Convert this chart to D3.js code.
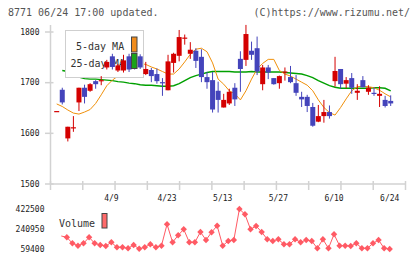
<!DOCTYPE html>
<html><head><meta charset="utf-8">
<script src="https://cdn.jsdelivr.net/npm/d3@7"></script>
<style>body{margin:0;background:#fff}svg{display:block}</style>
</head><body>
<script>
const dates = ["3/26","3/27","3/30","3/31","4/1","4/2","4/3","4/6","4/7","4/8","4/9","4/10","4/13","4/14","4/15","4/16","4/17","4/20","4/21","4/22","4/23","4/24","4/27","4/28","4/30","5/1","5/7","5/8","5/11","5/12","5/13","5/14","5/15","5/18","5/19","5/20","5/21","5/22","5/25","5/26","5/27","5/28","5/29","6/1","6/2","6/3","6/4","6/5","6/8","6/9","6/10","6/11","6/12","6/15","6/16","6/17","6/18","6/19","6/22","6/23","6/24"];
const openV  = [1644,1686,1590,1611,1661,1690,1684,1703,1704,1730,1752,1724,1724,1752,1752,1752,1717,1725,1717,1701,1685,1739,1753,1788,1757,1763,1751,1711,1705,1684,1651,1659,1690,1747,1745,1763,1768,1697,1730,1709,1699,1721,1711,1699,1672,1672,1652,1623,1634,1642,1703,1727,1698,1709,1680,1705,1682,1680,1674,1666,1664];
const highV  = [1644,1690,1613,1634,1690,1696,1699,1705,1713,1745,1757,1737,1755,1757,1757,1756,1741,1729,1728,1709,1755,1759,1804,1795,1780,1768,1766,1721,1721,1702,1678,1688,1699,1762,1814,1781,1791,1735,1735,1709,1714,1730,1733,1715,1682,1676,1660,1656,1666,1655,1751,1727,1711,1719,1697,1713,1695,1691,1693,1674,1675];
const lowV   = [1644,1657,1584,1603,1644,1659,1682,1688,1695,1726,1726,1721,1720,1721,1726,1727,1715,1701,1698,1674,1685,1720,1742,1775,1747,1729,1701,1688,1641,1641,1651,1656,1654,1682,1733,1745,1715,1685,1707,1696,1688,1704,1699,1674,1652,1642,1613,1622,1621,1629,1692,1688,1689,1678,1666,1691,1676,1674,1652,1651,1654];
const closeV = [1644,1661,1613,1612,1690,1672,1697,1697,1705,1741,1731,1734,1744,1726,1728,1730,1727,1713,1703,1700,1742,1757,1790,1789,1765,1743,1711,1701,1647,1666,1666,1682,1667,1727,1796,1755,1722,1730,1720,1697,1713,1722,1701,1680,1667,1654,1615,1634,1642,1634,1723,1697,1705,1690,1684,1691,1690,1678,1678,1654,1659];
const ma5  = [1658,1653,1646,1640,1638,1642,1647,1659,1676,1694,1705,1713,1725,1733,1737,1738,1736,1731,1727,1722,1717,1717,1727,1741,1756,1766,1768,1761,1739,1707,1697,1684,1678,1666,1684,1707,1727,1738,1746,1746,1724,1717,1713,1707,1701,1695,1684,1666,1651,1641,1636,1651,1668,1684,1692,1693,1692,1690,1685,1678,1672];
const ma25 = [null,1724,1722,1717,1711,1708,1707,1707,1706,1705,1704,1702,1701,1699,1698,1696,1695,1695,1694,1693,1693,1694,1698,1704,1710,1714,1717,1720,1722,1722,1722,1722,1721,1721,1721,1722,1721,1721,1721,1721,1721,1720,1719,1718,1717,1714,1710,1704,1699,1694,1691,1689,1689,1689,1689,1689,1689,1690,1690,1689,1684];
const volume = [null,177400,165600,111100,89400,111100,165600,111100,95700,86600,120200,74800,74800,65800,95700,61000,74800,102100,74800,89400,283600,120200,183800,238200,120200,120200,213700,141100,211000,270900,89400,132000,141100,422500,374400,238200,268200,213700,147500,132000,147500,102100,102100,147500,120200,141100,132000,65800,147500,65800,192800,89400,89400,86600,111100,65800,65800,111100,141100,65800,59400];
const priceTicks = [1500,1600,1700,1800];
const dateTickLabels = ["4/9","4/23","5/13","5/27","6/10","6/24"];
const volumeTicks = [422500,240950,59400];

const W = 420, H = 259;
const svg = d3.select("body").append("svg").attr("width", W).attr("height", H);
const mono = "'DejaVu Sans Mono', monospace";
const axisCol = "#d2d2d2";
const upCol = "#d40000", downCol = "#4444bb";

const x = d3.scalePoint().domain(dates).range([56.7, 390.7]);
const y = d3.scaleLinear().domain([1500, 1800]).range([184, 32]);
const yv = d3.scaleLinear().domain([59400, 422500]).range([249, 209]);
const grid = d3.scaleLinear().domain([0, 11]).range([50.5, 405.5]);

// header texts
svg.append("text").attr("x", 8).attr("y", 16).attr("font-family", mono).attr("font-size", 10)
  .attr("fill", "#555").text("8771 06/24 17:00 updated.");
svg.append("text").attr("x", 410).attr("y", 16).attr("text-anchor", "end").attr("font-family", mono)
  .attr("font-size", 10).attr("fill", "#555").text("(C)https://www.rizumu.net/");

// axes
svg.append("line").attr("x1", 50.5).attr("x2", 50.5).attr("y1", 25).attr("y2", 184)
  .attr("stroke", axisCol).attr("stroke-width", 1.5);
svg.append("line").attr("x1", 50.5).attr("x2", 405.5).attr("y1", 184).attr("y2", 184)
  .attr("stroke", axisCol).attr("stroke-width", 1.5);
svg.selectAll(".gt").data(d3.range(12)).enter().append("line")
  .attr("x1", d => grid(d)).attr("x2", d => grid(d)).attr("y1", 181).attr("y2", 190)
  .attr("stroke", axisCol).attr("stroke-width", 1.5);
svg.selectAll(".pt").data(priceTicks).enter().append("line")
  .attr("x1", 45).attr("x2", 53.5).attr("y1", d => y(d)).attr("y2", d => y(d))
  .attr("stroke", axisCol).attr("stroke-width", 1.5);
svg.selectAll(".pl").data(priceTicks).enter().append("text")
  .attr("x", 39.5).attr("y", d => y(d) + 2.8).attr("text-anchor", "end")
  .attr("font-family", mono).attr("font-size", 8).attr("fill", "#222").text(d => d);
svg.selectAll(".dl").data(dateTickLabels).enter().append("text")
  .attr("x", d => x(d) - 1).attr("y", 201).attr("text-anchor", "middle")
  .attr("font-family", mono).attr("font-size", 8).attr("fill", "#222").text(d => d);

// moving averages
const idx = d3.range(dates.length);
const maLine = arr => d3.line().defined(i => arr[i] != null).x(i => x(dates[i])).y(i => y(arr[i]));
svg.append("path").attr("d", maLine(ma25)(idx)).attr("fill", "none")
  .attr("stroke", "#00a000").attr("stroke-width", 1.4);
svg.append("path").attr("d", maLine(ma5)(idx)).attr("fill", "none")
  .attr("stroke", "#f0900a").attr("stroke-width", 1);

// legend (drawn over the MA lines, under the candles)
svg.append("rect").attr("x", 65.5).attr("y", 30.5).attr("width", 78).attr("height", 47)
  .attr("fill", "#fff").attr("stroke", "#cfcfcf");
svg.append("text").attr("x", 76).attr("y", 50).attr("font-family", mono).attr("font-size", 10)
  .attr("fill", "#333").text("5-day MA");
svg.append("text").attr("x", 70.5).attr("y", 66.5).attr("font-family", mono).attr("font-size", 10)
  .attr("fill", "#333").text("25-day MA");

// candles
const g = svg.append("g");
idx.forEach(i => {
  const cx = x(dates[i]);
  const o = openV[i], c = closeV[i];
  const col = c >= o ? upCol : downCol;
  g.append("line").attr("x1", cx).attr("x2", cx).attr("y1", y(highV[i])).attr("y2", y(lowV[i]))
    .attr("stroke", col).attr("stroke-width", 1);
  const top = y(Math.max(o, c)), bot = y(Math.min(o, c));
  g.append("rect").attr("x", cx - 2.5).attr("width", 5).attr("y", top)
    .attr("height", Math.max(1.2, bot - top)).attr("fill", col);
});

// legend swatches
svg.append("rect").attr("x", 131.5).attr("y", 37).attr("width", 5.5).attr("height", 15)
  .attr("fill", "#f08c1c").attr("stroke", "#444");
svg.append("rect").attr("x", 131.5).attr("y", 53.5).attr("width", 5.5).attr("height", 15)
  .attr("fill", "#1aa31a").attr("stroke", "#444");

// volume
svg.selectAll(".vl").data(volumeTicks).enter().append("text")
  .attr("x", 44.5).attr("y", d => yv(d) + 2.8).attr("text-anchor", "end")
  .attr("font-family", mono).attr("font-size", 8).attr("fill", "#222").text(d => d);
const volCol = "#ff5a64";
svg.append("path").attr("d", d3.line().defined(i => volume[i] != null)
    .x(i => x(dates[i]) - 1).y(i => yv(volume[i]))(idx))
  .attr("fill", "none").attr("stroke", volCol).attr("stroke-width", 1);
svg.selectAll(".vm").data(idx.filter(i => i >= 2 && volume[i] != null)).enter().append("path")
  .attr("transform", i => `translate(${x(dates[i]) - 1},${yv(volume[i])})`)
  .attr("d", "M0,-3.2L3.2,0L0,3.2L-3.2,0Z").attr("fill", volCol);
svg.append("text").attr("x", 59).attr("y", 226.5).attr("font-family", mono).attr("font-size", 10)
  .attr("fill", "#333").text("Volume");
svg.append("rect").attr("x", 102).attr("y", 213.5).attr("width", 5).attr("height", 14.5)
  .attr("fill", "#ff6a6a").attr("stroke", "#444");
</script>
</body></html>
